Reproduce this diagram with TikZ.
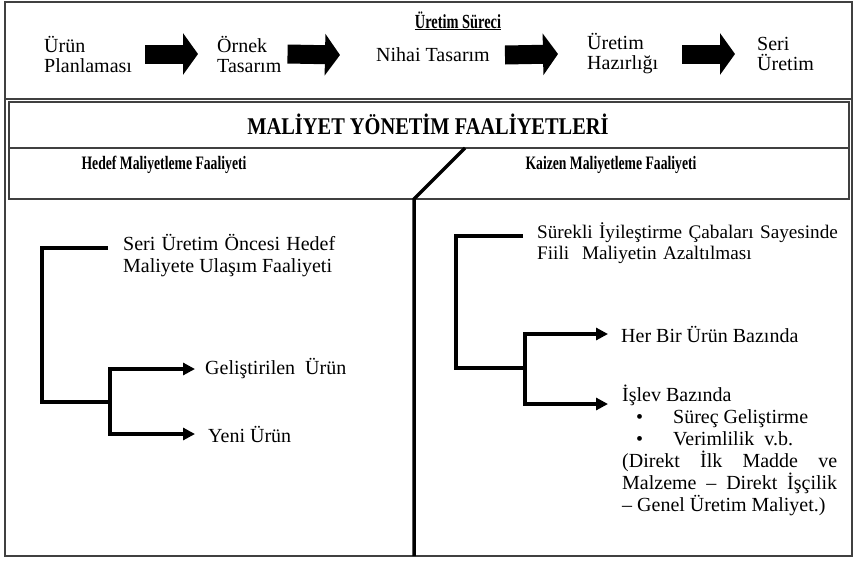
\documentclass[tikz,border=0pt]{standalone}
\usepackage{fontspec}
\setmainfont{Liberation Serif}
\newfontfamily\darbf[FakeStretch=0.72]{Liberation Serif}
\newfontfamily\genisbf[FakeStretch=0.85]{Liberation Serif}
\usetikzlibrary{arrows.meta}
\hyphenpenalty=10000

\begin{document}
\begin{tikzpicture}[x=1pt, y=-1pt,
      metin/.style={inner sep=0pt, font=\fontsize{20}{22}\selectfont},
      ust/.style={inner sep=0pt, align=left, font=\fontsize{20}{20}\selectfont},
      baslik/.style={inner sep=0pt, font=\darbf\bfseries\fontsize{#1}{#1}\selectfont},
      cerceve/.style={line width=1.2pt, black!75},
      blok/.style={line width=19pt, -{Triangle[length=15pt,width=41pt]}},
      kol/.style={line width=3.3pt},
      ok/.style={kol, -{Triangle[length=12pt,width=12pt]}}]
    \useasboundingbox (0,0) rectangle (856,560);
    % cerceveler
    \draw[cerceve] (5,2) rectangle (852,556);
    \draw[cerceve] (5,99) -- (852,99);
    \draw[cerceve] (9,102) rectangle (849,199);
    \draw[cerceve] (9,148) -- (849,148);
    % uretim sureci
    \node[ust, anchor=west] (plan)  at (44,54)  {Ürün\\Planlaması};
    \node[ust, anchor=west] (ornek) at (217,54) {Örnek\\Tasarım};
    \node[baslik=20, anchor=base] (surec) at (458,28) {\underline{Üretim Süreci}};
    \node[ust, anchor=west] (nihai) at (376,55) {Nihai Tasarım};
    \node[ust, anchor=west] (hazir) at (587,54) {Üretim\\Hazırlığı};
    \node[ust, anchor=west] (seriu) at (757,54) {Seri\\Üretim};
    \draw[blok] ([xshift=13pt]plan.east) -- ([xshift=-19pt]ornek.west);
    \draw[blok] ([xshift=6pt]ornek.east) -- ([xshift=-36pt]nihai.west);
    \draw[blok] ([xshift=15pt]nihai.east) -- ([xshift=-29pt]hazir.west);
    \draw[blok] ([xshift=24pt]hazir.east) -- ([xshift=-22pt]seriu.west);
    % basliklar
    \node[inner sep=0pt, font=\genisbf\bfseries\fontsize{24}{24}\selectfont] (maliyet) at (428,124)
      {MALİYET YÖNETİM FAALİYETLERİ};
    \node[baslik=19] (hedef) at (164,165) {Hedef Maliyetleme Faaliyeti};
    \node[baslik=19] (kaizen) at (611,165) {Kaizen Maliyetleme Faaliyeti};
    \draw[kol, line width=3.5pt] (465,148) -- (414,199) -- (414,556);
    % hedef maliyetleme
    \node[metin, text width=212pt, align=justify, anchor=base west] (seri) at (123,250)
      {Seri Üretim Öncesi Hedef Maliyete Ulaşım Faaliyeti};
    \node[metin, anchor=west] (gel)  at (205,369) {Geliştirilen\ \ Ürün};
    \node[metin, anchor=west] (yeni) at (208,434) {Yeni Ürün};
    \coordinate (hk) at (42,402);
    \coordinate (hd) at (110,402);
    \draw[kol] ([xshift=-15pt,yshift=2pt]seri.base west) -| (hk) -- (hd);
    \draw[ok, shorten >=10pt] (hd) |- (gel.west);
    \draw[ok, shorten >=13pt] (hd) |- (yeni.west);
    % kaizen maliyetleme
    \node[metin, text width=320pt, align=left, anchor=base west,
          font=\fontsize{19.2}{21}\selectfont] (surek) at (537,238)
      {Sürekli İyileştirme Çabaları Sayesinde\\Fiili\ \ Maliyetin Azaltılması};
    \node[metin, anchor=west] (herbir) at (621,334) {Her Bir Ürün Bazında};
    \node[metin, text width=215pt, align=justify, anchor=base west] (islev) at (622,401)
      {İşlev Bazında\\
       \hspace*{14pt}•\hspace{30pt}Süreç Geliştirme\\
       \hspace*{14pt}•\hspace{30pt}Verimlilik\ \ v.b.\\
       (Direkt İlk Madde ve Malzeme – Direkt İşçilik –~Genel Üretim Maliyet.)};
    \coordinate (kk) at (456,368);
    \coordinate (kd) at (525,368);
    \draw[kol] ([xshift=-14pt,yshift=2pt]surek.base west) -| (kk) -- (kd);
    \draw[ok, shorten >=13pt] (kd) |- (herbir.west);
    \draw[ok, shorten >=14pt] (kd) |- ([yshift=-3pt]islev.base west);
  \end{tikzpicture}
\end{document}
